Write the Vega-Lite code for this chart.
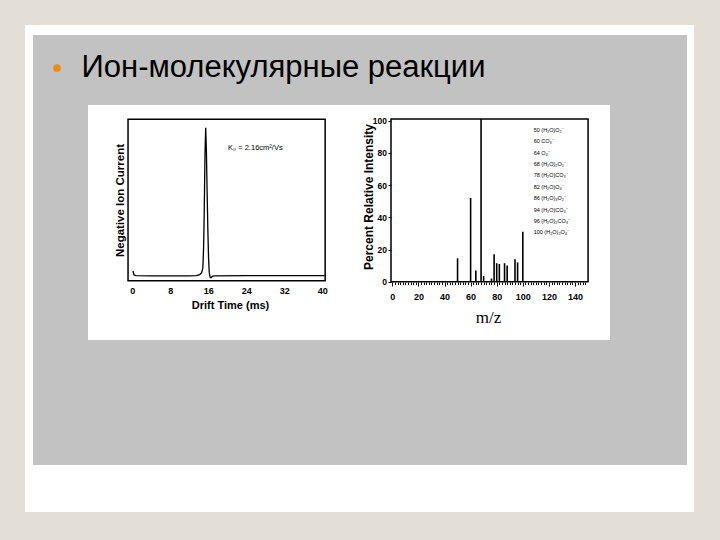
{
  "$schema": "https://vega.github.io/schema/vega-lite/v6.json",
  "background": "#c2c2c2",
  "padding": 0,
  "spacing": 0,
  "config": {
    "view": {"stroke": null},
    "font": "Liberation Sans",
    "concat": {"spacing": 0},
    "axis": {"grid": false, "domain": false, "labelFont": "Liberation Sans", "titleFont": "Liberation Sans", "labelColor": "black", "titleColor": "black", "tickColor": "black", "labelFontWeight": "bold", "titleFontWeight": "bold"}
  },
  "datasets": {
    "panel": [{"part": "slide"}],
    "heading": [{"heading": "Ион-молекулярные реакции"}],
    "drift": [
      {"drift_ms": 0.15, "current": 6.0},
      {"drift_ms": 0.35, "current": 3.6},
      {"drift_ms": 0.8, "current": 3.1},
      {"drift_ms": 4, "current": 3.0},
      {"drift_ms": 8, "current": 3.0},
      {"drift_ms": 12, "current": 3.0},
      {"drift_ms": 13.5, "current": 3.2},
      {"drift_ms": 14.2, "current": 3.8},
      {"drift_ms": 14.6, "current": 5.0},
      {"drift_ms": 14.85, "current": 8},
      {"drift_ms": 15.0, "current": 20},
      {"drift_ms": 15.1, "current": 35},
      {"drift_ms": 15.2, "current": 55},
      {"drift_ms": 15.3, "current": 78},
      {"drift_ms": 15.45, "current": 94.8},
      {"drift_ms": 15.6, "current": 80},
      {"drift_ms": 15.75, "current": 55},
      {"drift_ms": 15.9, "current": 32},
      {"drift_ms": 16.05, "current": 14},
      {"drift_ms": 16.2, "current": 5},
      {"drift_ms": 16.4, "current": 2.0},
      {"drift_ms": 16.6, "current": 1.8},
      {"drift_ms": 16.9, "current": 2.8},
      {"drift_ms": 17.5, "current": 3.0},
      {"drift_ms": 24, "current": 3.1},
      {"drift_ms": 32, "current": 3.1},
      {"drift_ms": 40.5, "current": 3.2}
    ],
    "spectrum": [
      {"mz": 50, "intensity": 14.5},
      {"mz": 60, "intensity": 52},
      {"mz": 64, "intensity": 7},
      {"mz": 68, "intensity": 101},
      {"mz": 70, "intensity": 3.5},
      {"mz": 76, "intensity": 2},
      {"mz": 78, "intensity": 17},
      {"mz": 80, "intensity": 11.5},
      {"mz": 82, "intensity": 11},
      {"mz": 86, "intensity": 11.5},
      {"mz": 88, "intensity": 10},
      {"mz": 94, "intensity": 14},
      {"mz": 96, "intensity": 12},
      {"mz": 100, "intensity": 31}
    ],
    "ions": [
      {"mz": 50, "ion": "\u200750 (H₂O)O₂⁻"},
      {"mz": 60, "ion": "\u200760 CO₃⁻"},
      {"mz": 64, "ion": "\u200764 O₄⁻"},
      {"mz": 68, "ion": "\u200768 (H₂O)₂O₂⁻"},
      {"mz": 78, "ion": "\u200778 (H₂O)CO₃⁻"},
      {"mz": 82, "ion": "\u200782 (H₂O)O₄⁻"},
      {"mz": 86, "ion": "\u200786 (H₂O)₃O₂⁻"},
      {"mz": 94, "ion": "\u200794 (H₂O)CO₄⁻"},
      {"mz": 96, "ion": "\u200796 (H₂O)₂CO₃⁻"},
      {"mz": 100, "ion": "100 (H₂O)₂O₄⁻"}
    ]
  },
  "vconcat": [
    {"data": {"name": "panel"}, "mark": {"type": "rect", "color": "#e4dfd6"}, "width": 720, "height": 25, "view": {"fill": "#e4dfd6", "stroke": null}},
    {
      "spacing": 0,
      "hconcat": [
        {"data": {"name": "panel"}, "mark": {"type": "rect", "color": "#e4dfd6"}, "width": 25, "height": 487, "view": {"fill": "#e4dfd6", "stroke": null}},
        {
          "spacing": 0,
          "vconcat": [
            {"data": {"name": "panel"}, "mark": {"type": "rect", "color": "#ffffff"}, "width": 669, "height": 10, "view": {"fill": "#ffffff", "stroke": null}},
            {
              "spacing": 0,
              "hconcat": [
                {"data": {"name": "panel"}, "mark": {"type": "rect", "color": "#ffffff"}, "width": 8, "height": 430, "view": {"fill": "#ffffff", "stroke": null}},
                {
                  "spacing": 0,
                  "vconcat": [
                    {
                      "spacing": 0,
                      "hconcat": [
                        {"data": {"name": "panel"}, "mark": {"type": "point", "shape": "circle", "filled": true, "color": "#f08a12", "opacity": 1, "size": 60}, "width": 48, "height": 66},
                        {"data": {"name": "heading"}, "mark": {"type": "text", "fontSize": 31, "font": "Liberation Sans", "color": "black", "align": "center", "baseline": "middle"}, "encoding": {"text": {"field": "heading"}}, "width": 405, "height": 66},
                        {"data": {"name": "panel"}, "mark": {"type": "rect", "color": "#c2c2c2"}, "width": 201, "height": 70}
                      ]
                    },
                    {
                      "spacing": 0,
                      "hconcat": [
                        {"data": {"name": "panel"}, "mark": {"type": "rect", "color": "#c2c2c2"}, "width": 55, "height": 235},
                        {
                          "width": 261,
                          "height": 235,
                          "view": {"fill": "white", "stroke": null},
                          "layer": [
                            {
                              "data": {"name": "drift"},
                              "mark": {"type": "line", "color": "black", "strokeWidth": 1.3},
                              "encoding": {
                                "x": {"field": "drift_ms", "type": "quantitative", "scale": {"domain": [-9.33, 45.62], "nice": false, "zero": false},
                                  "axis": {"title": "Drift Time (ms)", "values": [0, 8, 16, 24, 32, 40], "ticks": false, "offset": -59, "labelPadding": 5, "labelFontSize": 9, "titleFontSize": 11, "titleX": 142, "titleY": 24, "titleBaseline": "middle"}},
                                "y": {"field": "current", "type": "quantitative", "scale": {"domain": [-36.74, 108.86], "nice": false, "zero": false},
                                  "axis": {"title": "Negative Ion Current", "labels": false, "ticks": false, "offset": -40, "titleFontSize": 11.5, "titleAngle": 270, "titleX": -8, "titleY": 95, "titleBaseline": "middle", "titleAlign": "center"}}
                              }
                            },
                            {
                              "data": {"values": [{"item": "frame"}]},
                              "mark": {"type": "rect", "fillOpacity": 0, "stroke": "black", "strokeWidth": 1.5},
                              "encoding": {"x": {"datum": -0.9}, "x2": {"datum": 40.6}, "y": {"datum": 0}, "y2": {"datum": 100}}
                            },
                            {
                              "data": {"values": [{"note": "K₀ = 2.16cm²/Vs"}]},
                              "mark": {"type": "text", "fontSize": 7.5, "font": "Liberation Sans", "color": "black"},
                              "encoding": {"text": {"field": "note"}, "x": {"datum": 25.9}, "y": {"datum": 82.3}}
                            }
                          ]
                        },
                        {
                          "width": 261,
                          "height": 235,
                          "view": {"fill": "white", "stroke": null},
                          "resolve": {"scale": {"y": "independent"}},
                          "layer": [
                            {
                              "resolve": {"axis": {"x": "independent"}},
                              "layer": [
                                {
                                  "data": {"name": "spectrum"},
                                  "mark": {"type": "rule", "color": "black", "strokeWidth": 1.6},
                                  "encoding": {
                                    "x": {"field": "mz", "type": "quantitative", "scale": {"domain": [-33.18, 166.8], "nice": false, "zero": false},
                                      "axis": {"orient": "bottom", "title": "m/z", "values": [0, 20, 40, 60, 80, 100, 120, 140], "labelOverlap": false, "labelFlush": false, "tickSize": 4, "offset": -58, "labelPadding": 6, "labelFontSize": 9, "titleFont": "Liberation Serif", "titleFontWeight": "normal", "titleFontSize": 17, "titleX": 139, "titleY": 35, "titleBaseline": "middle"}},
                                    "y": {"field": "intensity", "type": "quantitative", "scale": {"domain": [-36.2, 109.75], "nice": false, "zero": false},
                                      "axis": {"title": "Percent Relative Intensity", "values": [0, 20, 40, 60, 80, 100], "tickSize": 3, "offset": -42, "labelPadding": 1.5, "labelFontSize": 8.5, "titleFontSize": 12, "titleAngle": 270, "titleX": -22.7, "titleY": 91.5, "titleBaseline": "middle", "titleAlign": "center"}},
                                    "y2": {"datum": 0}
                                  }
                                },
                                {
                                  "data": {"values": [{"item": "frame"}]},
                                  "mark": {"type": "rect", "fillOpacity": 0, "stroke": "black", "strokeWidth": 1.5},
                                  "encoding": {
                                    "x": {"datum": -1, "axis": {"orient": "bottom", "title": null, "labels": false, "values": [2,4,6,8,10,12,14,16,18,22,24,26,28,30,32,34,36,38,42,44,46,48,50,52,54,56,58,62,64,66,68,70,72,74,76,78,82,84,86,88,90,92,94,96,98,102,104,106,108,110,112,114,116,118,122,124,126,128,130,132,134,136,138,142,144,146,148], "tickSize": 2.5, "offset": -58}},
                                    "x2": {"datum": 150}, "y": {"datum": 0}, "y2": {"datum": 101}}
                                }
                              ]
                            },
                            {
                              "data": {"name": "ions"},
                              "transform": [{"window": [{"op": "row_number", "as": "rank"}], "sort": [{"field": "mz"}]}],
                              "mark": {"type": "text", "align": "left", "baseline": "middle", "fontSize": 5.5, "font": "Liberation Sans", "color": "black"},
                              "encoding": {
                                "text": {"field": "ion"},
                                "x": {"datum": 108.3, "axis": null},
                                "y": {"field": "rank", "type": "quantitative", "scale": {"domain": [-1.199, 19.475], "reverse": true, "nice": false, "zero": false}, "axis": null}
                              }
                            }
                          ]
                        },
                        {"data": {"name": "panel"}, "mark": {"type": "rect", "color": "#c2c2c2"}, "width": 77, "height": 235}
                      ]
                    }
                  ]
                },
                {"data": {"name": "panel"}, "mark": {"type": "rect", "color": "#ffffff"}, "width": 7, "height": 430, "view": {"fill": "#ffffff", "stroke": null}}
              ]
            },
            {"data": {"name": "panel"}, "mark": {"type": "rect", "color": "#ffffff"}, "width": 669, "height": 47, "view": {"fill": "#ffffff", "stroke": null}}
          ]
        },
        {"data": {"name": "panel"}, "mark": {"type": "rect", "color": "#e4dfd6"}, "width": 26, "height": 487, "view": {"fill": "#e4dfd6", "stroke": null}}
      ]
    },
    {"data": {"name": "panel"}, "mark": {"type": "rect", "color": "#e4dfd6"}, "width": 720, "height": 28, "view": {"fill": "#e4dfd6", "stroke": null}}
  ]
}
